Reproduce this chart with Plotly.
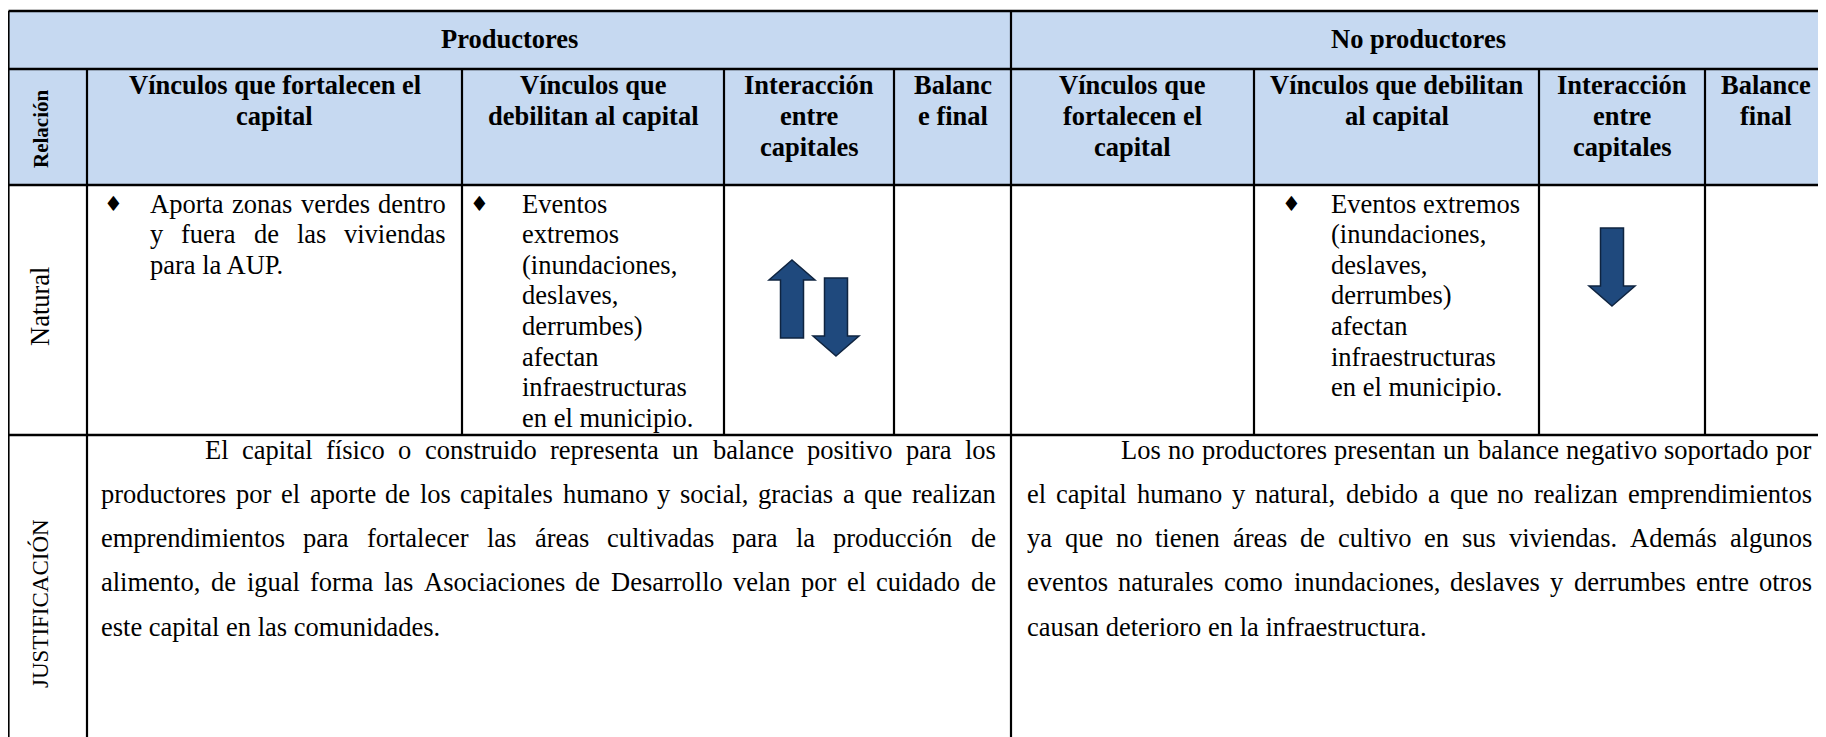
import plotly.graph_objects as go

# ---------------- content ----------------
group_headers = ["Productores", "No productores"]
relation_label = "Relación"
sub_headers = [
    ["Vínculos que fortalecen el", "capital"],
    ["Vínculos que", "debilitan al capital"],
    ["Interacción", "entre", "capitales"],
    ["Balanc", "e final"],
    ["Vínculos que", "fortalecen el", "capital"],
    ["Vínculos que debilitan", "al capital"],
    ["Interacción", "entre", "capitales"],
    ["Balance", "final"],
]
row_label = "Natural"
prod_fortalecen = ["Aporta zonas verdes dentro", "y fuera de las viviendas", "para la AUP."]
prod_debilitan = ["Eventos", "extremos", "(inundaciones,", "deslaves,", "derrumbes)",
                  "afectan", "infraestructuras", "en el municipio."]
noprod_fortalecen = []
noprod_debilitan = ["Eventos extremos", "(inundaciones,", "deslaves,", "derrumbes)",
                    "afectan", "infraestructuras", "en el municipio."]
prod_interaccion = ["up", "down"]
noprod_interaccion = ["down"]
justif_label = "JUSTIFICACIÓN"
justif_prod = [
    "El capital físico o construido representa un balance positivo para los",
    "productores por el aporte de los capitales humano y social, gracias a que realizan",
    "emprendimientos para fortalecer las áreas cultivadas para la producción de",
    "alimento, de igual forma las Asociaciones de Desarrollo velan por el cuidado de",
    "este capital en las comunidades.",
]
justif_noprod = [
    "Los no productores presentan un balance negativo soportado por",
    "el capital humano y natural, debido a que no realizan emprendimientos",
    "ya que no tienen áreas de cultivo en sus viviendas. Además algunos",
    "eventos naturales como inundaciones, deslaves y derrumbes entre otros",
    "causan deterioro en la infraestructura.",
]

# ---------------- layout / style ----------------
W, H = 1826, 737
PAGE_MARGIN = 8  # default body margin of the html page
XE = [8.5, 87, 462, 724, 894, 1011, 1254, 1539, 1705, 1826]
YE = [11, 69, 185, 435, 737]
HEAD_FILL = "#C6D9F1"
ARROW_FILL = "#1F497D"
ARROW_LINE = "#0F2440"
FONT = "Liberation Serif"
FS = 26.5

# Times-Roman widths (per 1000 em) for justification
TW = {' ': 250, ',': 250, '.': 250, '(': 333, ')': 333,
      'A': 722, 'C': 667, 'D': 722, 'E': 611, 'L': 611, 'P': 556, 'U': 722,
      'a': 444, 'b': 500, 'c': 444, 'd': 500, 'e': 444, 'f': 333, 'g': 500, 'h': 500,
      'i': 278, 'j': 278, 'k': 500, 'l': 278, 'm': 778, 'n': 500, 'o': 500, 'p': 500,
      'q': 500, 'r': 333, 's': 389, 't': 278, 'u': 500, 'v': 500, 'w': 722, 'x': 500,
      'y': 500, 'z': 444, 'á': 444, 'é': 444, 'í': 278, 'ó': 500, 'ú': 500, 'ñ': 500}


def tw(s, fs=FS):
    return sum(TW.get(c, 500) for c in s) / 1000.0 * fs


fig = go.Figure()
fig.add_trace(go.Scatter(x=[100], y=[100], mode="markers", marker=dict(opacity=0),
                         hoverinfo="skip", showlegend=False))

shapes = []
annos = []


def rect(x0, y0, x1, y1, fill):
    shapes.append(dict(type="rect", xref="x", yref="y", x0=x0, y0=y0, x1=x1, y1=y1,
                       fillcolor=fill, line=dict(width=0), layer="below"))


def line(x0, y0, x1, y1, w=2):
    shapes.append(dict(type="line", xref="x", yref="y", x0=x0, y0=y0, x1=x1, y1=y1,
                       line=dict(color="black", width=w)))


def text(x, y, s, anchor="left", size=FS, bold=False, angle=0, family=FONT):
    annos.append(dict(x=x, y=y, xref="x", yref="y", text=s, showarrow=False,
                      xanchor=anchor, yanchor="middle", textangle=angle,
                      borderpad=0, borderwidth=0,
                      font=dict(family=family, size=size, color="black",
                                weight="bold" if bold else "normal")))


def jline(x0, x1, y, s, justify):
    if not justify:
        text(x0, y, s, "left")
        return
    words = s.split(" ")
    ws = [tw(w) for w in words]
    gap = (x1 - x0 - sum(ws)) / (len(words) - 1)
    x = x0
    for i, (w, ww) in enumerate(zip(words, ws)):
        if i == 0:
            text(x0, y, w, "left")
        elif i == len(words) - 1:
            text(x1, y, w, "right")
        else:
            text(x + ww / 2, y, w, "center")
        x += ww + gap


def arrow(cx, top, direction, L=78, sw=23, hw=46, hl=20):
    if direction == "up":
        pts = [(cx, top), (cx + hw / 2, top + hl), (cx + sw / 2, top + hl), (cx + sw / 2, top + L),
               (cx - sw / 2, top + L), (cx - sw / 2, top + hl), (cx - hw / 2, top + hl)]
    else:
        b = top + L
        pts = [(cx, b), (cx + hw / 2, b - hl), (cx + sw / 2, b - hl), (cx + sw / 2, top),
               (cx - sw / 2, top), (cx - sw / 2, b - hl), (cx - hw / 2, b - hl)]
    path = "M " + " L ".join(f"{x:.1f},{y:.1f}" for x, y in pts) + " Z"
    shapes.append(dict(type="path", xref="x", yref="y", path=path, fillcolor=ARROW_FILL,
                       line=dict(color=ARROW_LINE, width=1.5)))


# header fill
rect(XE[0], YE[0], XE[-1] + 2, YE[2], HEAD_FILL)

# grid lines
for y in YE[:4]:
    line(XE[0], y, XE[-1] + 2, y, 2.6)
line(XE[0], YE[0], XE[0], YE[-1], 2.2)
line(XE[5], YE[0], XE[5], YE[-1], 2.2)
line(XE[1], YE[1], XE[1], YE[-1], 2.2)
for xi in [2, 3, 4, 6, 7, 8]:
    line(XE[xi], YE[1], XE[xi], YE[3], 2.2)

# group headers
text((XE[0] + XE[5]) / 2, 38.5, group_headers[0], "center", bold=True)
text((XE[5] + XE[-1]) / 2, 38.5, group_headers[1], "center", bold=True)

# relation label
text(41, 129, relation_label, "center", size=21, bold=True, angle=-90)

# sub headers
for i, lines in enumerate(sub_headers):
    cx = (XE[i + 1] + XE[i + 2]) / 2
    for k, s in enumerate(lines):
        text(cx, 85 + 30.8 * k, s, "center", bold=True)

# row label
text(40, 307, row_label, "center", angle=-90)

# Natural row contents
ROW_Y0, LH = 203.5, 30.6


def bullet_block(bx, tx, tx1, lines, justified):
    if not lines:
        return
    text(bx, ROW_Y0, "♦", "center", size=21, family="DejaVu Sans")
    for k, s in enumerate(lines):
        jline(tx, tx1, ROW_Y0 + LH * k, s, k in justified)


bullet_block(XE[1] + 26, XE[1] + 63, XE[2] - 16, prod_fortalecen, {0, 1})
bullet_block(XE[2] + 17, XE[2] + 60, XE[3] - 4, prod_debilitan, set())
bullet_block(XE[5] + 26, XE[5] + 63, XE[6] - 16, noprod_fortalecen, set())
bullet_block(XE[6] + 37, XE[6] + 77, XE[7] - 8, noprod_debilitan, set())

# interaction arrows
cy = (YE[2] + YE[3]) / 2
pc = (XE[3] + XE[4]) / 2
for d, dx, dy in zip(prod_interaccion, [-17, 27], [-50, -32]):
    arrow(pc + dx, cy + dy, d)
nc = (XE[7] + XE[8]) / 2
for d, dx, dy in zip(noprod_interaccion, [-10], [-82]):
    arrow(nc + dx, cy + dy, d)

# justification row
text(40, 604, justif_label, "center", size=23, angle=-90)
JY0, JLH = 449.5, 44.3
for k, s in enumerate(justif_prod):
    x0 = 205 if k == 0 else 101.3
    jline(x0, 995.7, JY0 + JLH * k, s, k < len(justif_prod) - 1)
for k, s in enumerate(justif_noprod):
    x0 = 1121 if k == 0 else 1027
    jline(x0, 1812, JY0 + JLH * k, s, k < len(justif_noprod) - 1)

# the figure sits inside the page margin; map page pixels 1:1 onto data units
fig.update_layout(
    width=W - PAGE_MARGIN, height=H - PAGE_MARGIN, margin=dict(l=0, r=0, t=0, b=0),
    paper_bgcolor="white", plot_bgcolor="white",
    xaxis=dict(range=[PAGE_MARGIN, W], visible=False, fixedrange=True),
    yaxis=dict(range=[H, PAGE_MARGIN], visible=False, fixedrange=True),
    shapes=shapes, annotations=annos, showlegend=False,
)
fig.write_html("out.html")
